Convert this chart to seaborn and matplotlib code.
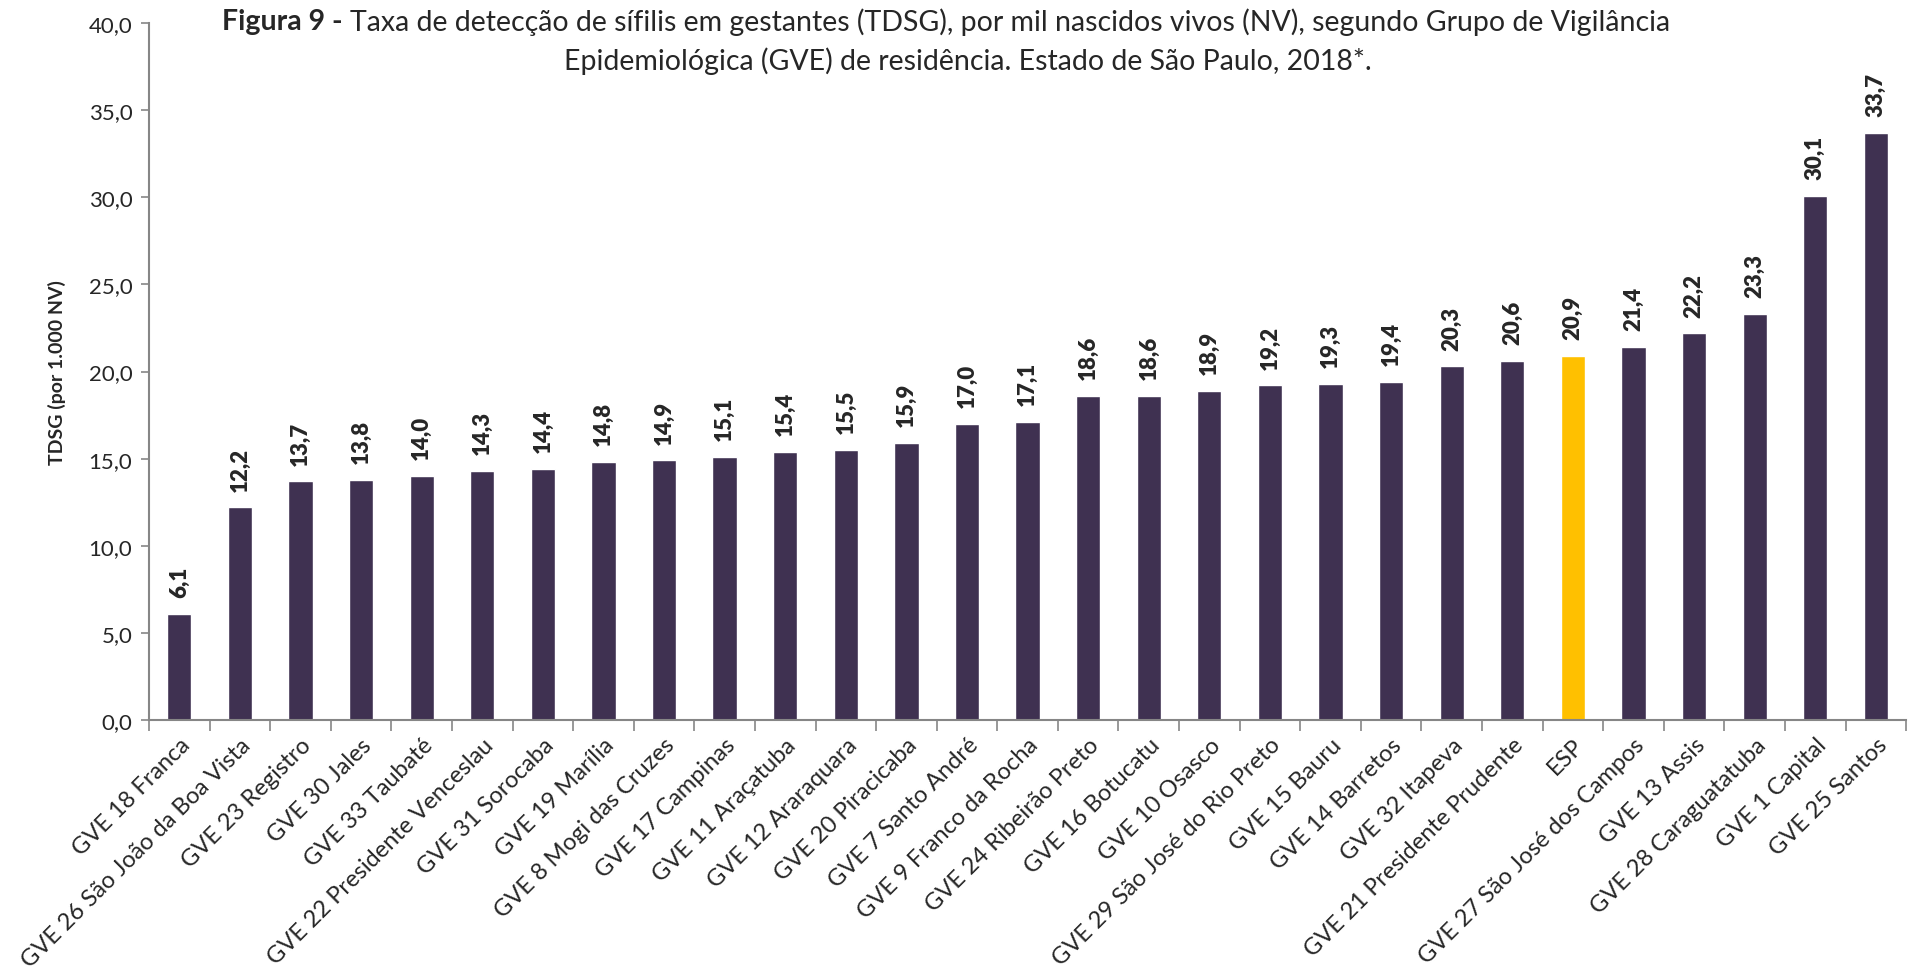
import matplotlib
matplotlib.use("Agg")
import matplotlib.pyplot as plt
import seaborn as sns
from matplotlib.ticker import FixedLocator, FuncFormatter

#--Data--#
gve = ['GVE 18 Franca', 'GVE 26 São João da Boa Vista', 'GVE 23 Registro', 'GVE 30 Jales',
       'GVE 33 Taubaté', 'GVE 22 Presidente Venceslau', 'GVE 31 Sorocaba', 'GVE 19 Marília',
       'GVE 8 Mogi das Cruzes', 'GVE 17 Campinas', 'GVE 11 Araçatuba', 'GVE 12 Araraquara',
       'GVE 20 Piracicaba', 'GVE 7 Santo André', 'GVE 9 Franco da Rocha', 'GVE 24 Ribeirão Preto',
       'GVE 16 Botucatu', 'GVE 10 Osasco', 'GVE 29 São José do Rio Preto', 'GVE 15 Bauru',
       'GVE 14 Barretos', 'GVE 32 Itapeva', 'GVE 21 Presidente Prudente', 'ESP',
       'GVE 27 São José dos Campos', 'GVE 13 Assis', 'GVE 28 Caraguatatuba', 'GVE 1 Capital',
       'GVE 25 Santos']
tdsg = [6.1, 12.2, 13.7, 13.8, 14.0, 14.3, 14.4, 14.8, 14.9, 15.1, 15.4, 15.5, 15.9, 17.0,
        17.1, 18.6, 18.6, 18.9, 19.2, 19.3, 19.4, 20.3, 20.6, 20.9, 21.4, 22.2, 23.3, 30.1, 33.7]
y_ticks = [0, 5, 10, 15, 20, 25, 30, 35, 40]

purple = '#3F3151'
yellow = '#FFC000'
palette = {g: (yellow if g == 'ESP' else purple) for g in gve}

sns.set_style('white')
plt.rcParams['font.family'] = ['Lato', 'DejaVu Sans']

fig = plt.figure(figsize=(19.1, 9.79), dpi=100)
ax = fig.add_axes([0.078, 0.2635, 0.92, 0.712])

sns.barplot(x=gve, y=tdsg, hue=gve, palette=palette, width=0.4, legend=False,
            saturation=1, ax=ax)

#--Axis styling--#
ax.set_xlim(-0.5, len(gve) - 0.5)
ax.set_ylim(0, 40)
ax.yaxis.set_major_locator(FixedLocator(y_ticks))
ax.yaxis.set_major_formatter(FuncFormatter(lambda v, p: f"{v:.1f}".replace('.', ',')))
ax.tick_params(axis='y', labelsize=16, length=6, width=1.2, color='#868686', left=True, pad=6)
ax.tick_params(axis='x', which='major', length=0, pad=10)
ax.xaxis.set_minor_locator(FixedLocator([i - 0.5 for i in range(len(gve) + 1)]))
ax.tick_params(axis='x', which='minor', length=8, width=1.2, color='#868686', bottom=True)
ax.set_xticks(range(len(gve)))
ax.set_xticklabels(gve, rotation=45, ha='right', rotation_mode='anchor', fontsize=17)

for s in ['top', 'right']:
    ax.spines[s].set_visible(False)
for s in ['left', 'bottom']:
    ax.spines[s].set_color('#868686')
    ax.spines[s].set_linewidth(1.5)

ax.set_xlabel('')
ax.set_ylabel('TDSG (por 1.000 NV)', fontsize=14, fontweight='bold', labelpad=16)

#--Value labels above bars--#
for cont in ax.containers:
    vals = [f"{b.get_height():.1f}".replace('.', ',') for b in cont]
    ax.bar_label(cont, labels=vals, rotation=90, padding=12, fontsize=16, fontweight='heavy')

#--Title with bold prefix--#
t1 = fig.text(222 / 1910, 1 - 22 / 979, 'Figura 9 - ', fontsize=20.5, fontweight='bold',
              ha='left', va='center')
fig.canvas.draw()
ax.annotate('Taxa de detecção de sífilis em gestantes (TDSG), por mil nascidos vivos (NV), '
            'segundo Grupo de Vigilância', xy=(1, 0.5), xycoords=t1, ha='left', va='center',
            fontsize=20.5, annotation_clip=False)
fig.text(968 / 1910, 1 - 61 / 979, 'Epidemiológica (GVE) de residência. Estado de São Paulo, 2018*.',
         fontsize=20.5, ha='center', va='center')

fig.savefig('out.png', dpi=100)
